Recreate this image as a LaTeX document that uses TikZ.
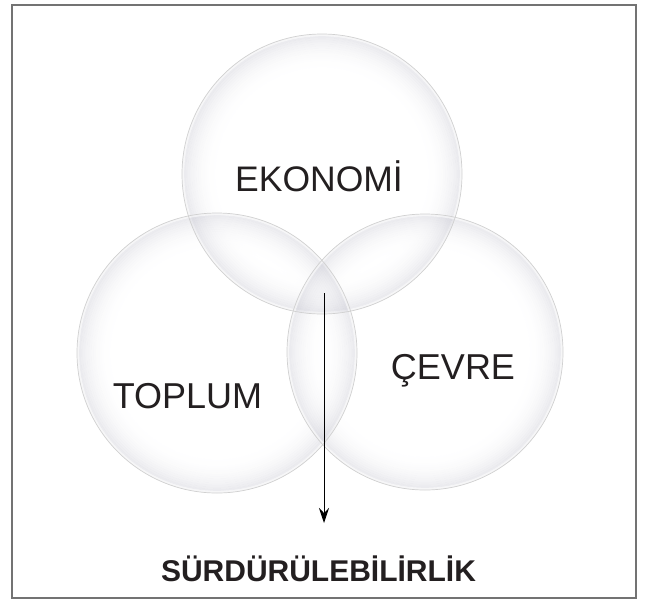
\documentclass[tikz,border=0pt]{standalone}
\usepackage{fontspec}
\setmainfont{Liberation Sans}
\usetikzlibrary{arrows.meta}
\definecolor{ink}{HTML}{231F20}
\definecolor{rim}{HTML}{B4B4C2}
\newcommand\glassdisk[2]{%
  \foreach \i in {0,...,19}{%
    \pgfmathsetmacro\ra{(0.70+0.015*\i)*#2}%
    \pgfmathsetmacro\rb{(0.70+0.015*(\i+1))*#2}%
    \pgfmathsetmacro\op{0.30*(\i/19)^2.5}%
    \fill[rim, fill opacity=\op, even odd rule]
      (#1) circle (\ra pt) circle (\rb pt);
  }%
  \fill[white, fill opacity=0.6, even odd rule]
      (#1) circle ({(#2-2.2)*1pt}) circle (#2 pt);
}
\tikzset{
  bubble/.style={circle, minimum size=#1, inner sep=0pt, draw=black!18,
    line width=0.7pt},
  lbl/.style={anchor=base, inner sep=0pt, text=ink,
    font=\fontsize{36}{40}\selectfont},
  result/.style={anchor=base, inner sep=0pt, text=ink,
    font=\fontsize{30}{34}\selectfont\bfseries},
  frame/.style={draw=black!55, line width=1.3pt},
  flow/.style={draw=black, line width=0.9pt,
    -{Stealth[length=15pt, width=10pt, inset=5pt]}}
}
\begin{document}
\begin{tikzpicture}[x=1pt, y=-1pt]
\useasboundingbox (0,0) rectangle (647,600);
\draw[frame] (12,5) rectangle (636,598);
\coordinate (cE) at (322,174);
\coordinate (cT) at (217,353);
\coordinate (cC) at (425,352);
\glassdisk{cE}{140}
\glassdisk{cT}{140}
\glassdisk{cC}{138}
\node[bubble=280pt] (eko) at (cE) {};
\node[bubble=280pt] (top) at (cT) {};
\node[bubble=276pt] (cev) at (cC) {};
\node[lbl, font=\fontsize{35.5}{40}\selectfont] (tEko) at (319,191) {EKONOMİ};
\node[lbl] (tTop) at (187.5,408) {TOPLUM};
\node[lbl] (tCev) at (453,379) {ÇEVRE};
\node[result] (sur) at (318.5,581) {SÜRDÜRÜLEBİLİRLİK};
\coordinate (aStart) at (324,293);
\coordinate (aEnd) at (324,523);
\draw[flow] (aStart) -- (aEnd);
\end{tikzpicture}
\end{document}
